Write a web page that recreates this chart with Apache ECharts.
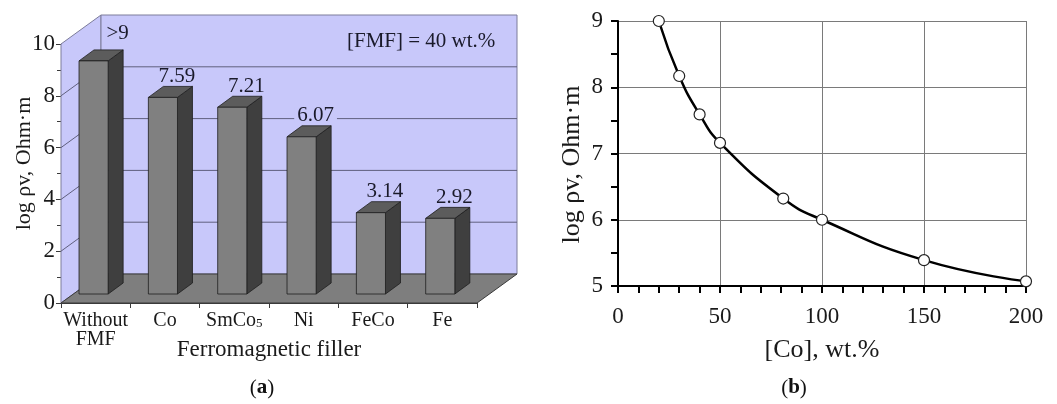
<!DOCTYPE html>
<html><head><meta charset="utf-8">
<script src="https://cdn.jsdelivr.net/npm/echarts@6/dist/echarts.min.js"></script>
<style>html,body{margin:0;padding:0;background:#fff}#c{width:1057px;height:404px}</style>
</head><body><div id="c"></div>
<script>
// ---------- data ----------
const fillerCategories = ['Without\nFMF', 'Co', 'SmCo5', 'Ni', 'FeCo', 'Fe'];
const resistivityValues = [9.0, 7.59, 7.21, 6.07, 3.14, 2.92];
const barLabels = ['>9', '7.59', '7.21', '6.07', '3.14', '2.92'];
const barAxisTicks = [0, 2, 4, 6, 8, 10];
const coContent = [20, 30, 40, 50, 81, 100, 150, 200];
const coResistivity = [9.0, 8.17, 7.59, 7.16, 6.32, 6.0, 5.39, 5.07];

// ---------- styles ----------
const FONT = 'Liberation Serif';
const WALL = '#c8c8fa';
const WALL_EDGE = '#7c7c9a';
const GRID_LINE = '#60607e';
const FLOOR = '#7e7e7e';
const DX = 40, DY = -29;          // wall depth
const BDX = 15, BDY = -11;        // bar depth
const LIFT = 9;                   // bar sits back on floor

const chart = echarts.init(document.getElementById('c'), null, {renderer: 'canvas'});

function renderWalls(params, api) {
  const cs = params.coordSys;
  const x0 = cs.x, x1 = cs.x + cs.width;
  const yAt = v => api.coord([0, v])[1];
  const yb = yAt(barAxisTicks[0]), yt = yAt(barAxisTicks[barAxisTicks.length - 1]);
  const ch = [];
  ch.push({type: 'polygon', shape: {points: [[x0, yt], [x0 + DX, yt + DY], [x0 + DX, yb + DY], [x0, yb]]},
    style: {fill: WALL, stroke: WALL_EDGE, lineWidth: 1}});
  ch.push({type: 'polygon', shape: {points: [[x0 + DX, yt + DY], [x1 + DX, yt + DY], [x1 + DX, yb + DY], [x0 + DX, yb + DY]]},
    style: {fill: WALL, stroke: WALL_EDGE, lineWidth: 1}});
  barAxisTicks.slice(1, -1).forEach(v => {
    const y = yAt(v);
    ch.push({type: 'line', shape: {x1: x0, y1: y, x2: x0 + DX, y2: y + DY}, style: {stroke: GRID_LINE, lineWidth: 1}});
    ch.push({type: 'line', shape: {x1: x0 + DX, y1: y + DY, x2: x1 + DX, y2: y + DY}, style: {stroke: GRID_LINE, lineWidth: 1}});
  });
  ch.push({type: 'polygon', shape: {points: [[x0, yb], [x0 + DX, yb + DY], [x1 + DX, yb + DY], [x1, yb]]},
    style: {fill: FLOOR, stroke: '#3a3a3a', lineWidth: 1}});
  return {type: 'group', children: ch};
}

function renderBar(params, api) {
  const i = api.value(0), v = api.value(1);
  const top = api.coord([i, v]), base = api.coord([i, 0]);
  const band = api.size([1, 0])[0];
  const w = band * 0.42;
  const lx = top[0] - band * 0.24, rx = lx + w;
  const ty = top[1] - LIFT, by = base[1] - LIFT;
  const edge = {stroke: '#1e1e1e', lineWidth: 0.8};
  const shift = i === 0 ? [10, -5] : [0, 1];
  return {type: 'group', children: [
    {type: 'polygon', shape: {points: [[rx, ty], [rx + BDX, ty + BDY], [rx + BDX, by + BDY], [rx, by]]},
      style: Object.assign({fill: '#3f3f3f'}, edge)},
    {type: 'polygon', shape: {points: [[lx, ty], [lx + BDX, ty + BDY], [rx + BDX, ty + BDY], [rx, ty]]},
      style: Object.assign({fill: '#5c5c5c'}, edge)},
    {type: 'rect', shape: {x: lx, y: ty, width: w, height: by - ty},
      style: Object.assign({fill: '#808080'}, edge)},
    {type: 'text', x: lx + w / 2 + 14 + shift[0], y: ty + BDY - 11 + shift[1],
      style: {text: barLabels[params.dataIndex], fill: '#1a1a2a', font: '21px "' + FONT + '"',
        align: 'center', verticalAlign: 'middle', backgroundColor: WALL, padding: [0, 3], lineHeight: 16}}
  ]};
}

const option = {
  animation: false,
  backgroundColor: '#ffffff',
  textStyle: {fontFamily: FONT},
  grid: [
    {left: 61, top: 44, width: 416, height: 259, outerBoundsMode: 'none'},
    {left: 618, top: 21, width: 408, height: 265, outerBoundsMode: 'none'}
  ],
  xAxis: [
    {
      gridIndex: 0, type: 'category', data: fillerCategories, boundaryGap: true,
      name: 'Ferromagnetic filler', nameLocation: 'middle', nameGap: 35, nameMoveOverlap: false,
      nameTextStyle: {fontFamily: FONT, fontSize: 23, color: '#1a1a1a'},
      axisLine: {show: true, lineStyle: {color: '#3a3a3a', width: 1}},
      axisTick: {show: true, length: 5, lineStyle: {color: '#3a3a3a'}},
      axisLabel: {
        interval: 0, margin: 8, fontFamily: FONT, fontSize: 20, lineHeight: 19, color: '#1a1a1a',
        formatter: v => v.replace(/(\d)$/, '{sub|$1}'),
        rich: {sub: {fontFamily: FONT, fontSize: 13, color: '#1a1a1a', verticalAlign: 'bottom', lineHeight: 13, padding: [6, 0, 0, 0]}}
      },
      splitLine: {show: false}
    },
    {
      gridIndex: 1, type: 'value', min: 0, max: 200, interval: 50,
      name: '[Co], wt.%', nameLocation: 'middle', nameGap: 51, nameMoveOverlap: false,
      nameTextStyle: {fontFamily: FONT, fontSize: 26, color: '#1a1a1a'},
      axisLine: {show: true, onZero: false, lineStyle: {color: '#000', width: 2}},
      axisTick: {show: true, length: 7, lineStyle: {color: '#000', width: 2}},
      minorTick: {show: true, splitNumber: 5, length: 7, lineStyle: {color: '#000', width: 2}},
      axisLabel: {margin: 19, fontFamily: FONT, fontSize: 23, color: '#1a1a1a'},
      splitLine: {show: true, lineStyle: {color: '#7a7a7a', width: 1}},
      minorSplitLine: {show: false}
    }
  ],
  yAxis: [
    {
      gridIndex: 0, type: 'value', min: 0, max: 10, interval: 2,
      name: 'log ρv, Ohm·m', nameLocation: 'middle', nameGap: 26, nameRotate: 90, nameMoveOverlap: false,
      nameTextStyle: {fontFamily: FONT, fontSize: 22, color: '#1a1a1a', padding: [0, 0, 0, 20]},
      axisLine: {show: true, lineStyle: {color: '#3a3a3a', width: 1}},
      axisTick: {show: true, length: 5, lineStyle: {color: '#3a3a3a'}},
      minorTick: {show: true, splitNumber: 2, length: 4, lineStyle: {color: '#3a3a3a'}},
      axisLabel: {margin: 6, fontFamily: FONT, fontSize: 23, color: '#1a1a1a'},
      splitLine: {show: false}
    },
    {
      gridIndex: 1, type: 'value', min: 5, max: 9, interval: 1,
      name: 'log ρv, Ohm·m', nameLocation: 'middle', nameGap: 33, nameRotate: 90, nameMoveOverlap: false,
      nameTextStyle: {fontFamily: FONT, fontSize: 26, color: '#1a1a1a', padding: [0, 22, 0, 0]},
      axisLine: {show: true, onZero: false, lineStyle: {color: '#000', width: 2}},
      axisTick: {show: true, length: 7, lineStyle: {color: '#000', width: 2}},
      minorTick: {show: true, splitNumber: 2, length: 7, lineStyle: {color: '#000', width: 2}},
      axisLabel: {margin: 15, fontFamily: FONT, fontSize: 23, color: '#1a1a1a'},
      splitLine: {show: true, lineStyle: {color: '#7a7a7a', width: 1}},
      minorSplitLine: {show: false}
    }
  ],
  graphic: [
    {type: 'text', left: 347, top: 31, style: {text: '[FMF] = 40 wt.%', font: '21px "' + FONT + '"', fill: '#1a1a2a'}, z: 10},
    {type: 'text', x: 262, y: 388, style: {text: '({b|a})', font: '21px "' + FONT + '"', fill: '#111', align: 'center', verticalAlign: 'middle',
      rich: {b: {font: 'bold 21px "' + FONT + '"', fill: '#111'}}}},
    {type: 'text', x: 794, y: 388, style: {text: '({b|b})', font: '21px "' + FONT + '"', fill: '#111', align: 'center', verticalAlign: 'middle',
      rich: {b: {font: 'bold 21px "' + FONT + '"', fill: '#111'}}}}
  ],
  series: [
    {type: 'custom', xAxisIndex: 0, yAxisIndex: 0, z: 1, silent: true, clip: false,
      renderItem: renderWalls, data: [[0, 0]]},
    {type: 'custom', xAxisIndex: 0, yAxisIndex: 0, z: 3, silent: true, clip: false,
      renderItem: renderBar, encode: {x: 0, y: 1},
      data: resistivityValues.map((v, i) => [i, v])},
    {type: 'line', xAxisIndex: 1, yAxisIndex: 1, z: 5, smooth: 0.5,
      symbol: 'circle', symbolSize: 11, showSymbol: true,
      lineStyle: {color: '#000', width: 2.5},
      itemStyle: {color: '#fff', borderColor: '#222', borderWidth: 1.2},
      data: coContent.map((x, i) => [x, coResistivity[i]])}
  ]
};
chart.setOption(option);
</script>
</body></html>
